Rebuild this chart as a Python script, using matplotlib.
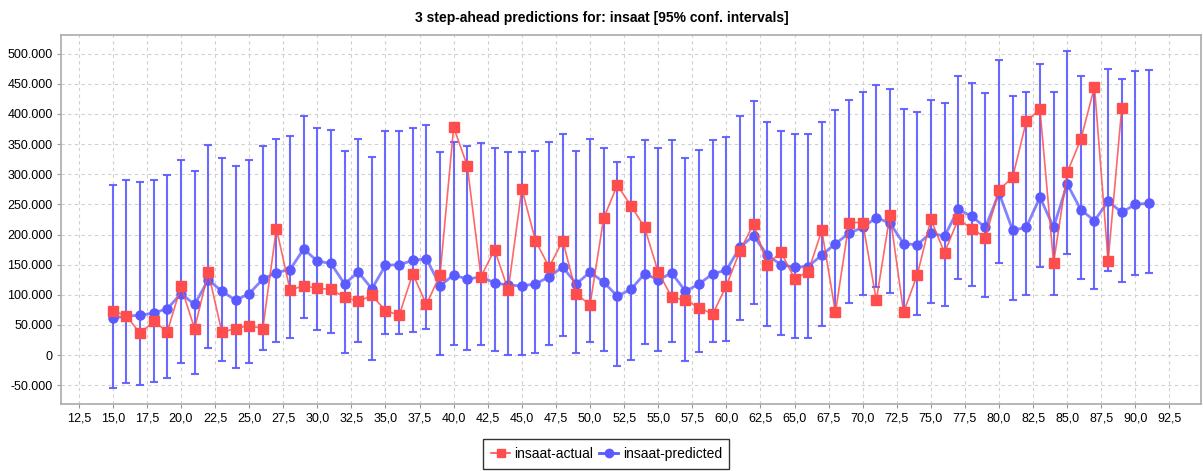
import numpy as np
import matplotlib
matplotlib.use('Agg')
import matplotlib.pyplot as plt
from matplotlib.ticker import MultipleLocator, FuncFormatter

plt.rcParams['font.family'] = ['Liberation Sans', 'DejaVu Sans']

# time steps
steps_actual = list(range(15, 90))
steps_pred = list(range(15, 92))

# actual values (x = 15 .. 89)
actual = [74000, 65000, 36000, 56000, 39000, 114000, 44000, 138000, 38000, 44000,
          49000, 44000, 210000, 108000, 115000, 111000, 109000, 96000, 89000, 99000,
          74000, 66000, 135000, 84000, 133000, 378000, 314000, 130000, 175000, 108000,
          276000, 190000, 146000, 190000, 102000, 83000, 227000, 282000, 248000, 212000,
          138000, 96000, 91000, 79000, 68000, 115000, 173000, 218000, 150000, 171000,
          127000, 138000, 207000, 71000, 220000, 220000, 91000, 233000, 71000, 133000,
          225000, 170000, 225000, 210000, 195000, 274000, 295000, 388000, 408000, 153000,
          303000, 358000, 445000, 156000, 410000]

# predicted values and 95% interval bounds (x = 15 .. 91)
predicted = [61000, 65000, 66000, 70000, 77000, 102000, 84000, 125000, 106000, 91000,
             102000, 126000, 137000, 142000, 176000, 156000, 152000, 118000, 138000, 110000,
             149000, 150000, 157000, 160000, 115000, 133000, 126000, 130000, 120000, 116000,
             115000, 118000, 130000, 146000, 118000, 138000, 121000, 98000, 109000, 135000,
             125000, 136000, 106000, 118000, 135000, 141000, 179000, 198000, 166000, 150000,
             146000, 147000, 166000, 185000, 202000, 212000, 228000, 219000, 185000, 183000,
             203000, 197000, 242000, 230000, 212000, 269000, 207000, 212000, 262000, 212000,
             284000, 241000, 223000, 255000, 237000, 250000, 252000]
upper = [282000, 290000, 287000, 290000, 299000, 324000, 305000, 349000, 327000, 314000,
         324000, 347000, 359000, 364000, 396000, 376000, 374000, 339000, 359000, 329000,
         372000, 372000, 376000, 381000, 337000, 353000, 347000, 352000, 344000, 337000,
         337000, 339000, 354000, 367000, 339000, 359000, 344000, 320000, 329000, 357000,
         344000, 357000, 327000, 341000, 357000, 362000, 396000, 421000, 386000, 372000,
         367000, 367000, 386000, 406000, 424000, 436000, 448000, 441000, 409000, 404000,
         424000, 419000, 463000, 451000, 434000, 490000, 429000, 436000, 483000, 436000,
         505000, 463000, 443000, 475000, 458000, 471000, 473000]
lower = [-55000, -47000, -50000, -44000, -38000, -13000, -32000, 12000, -10000, -22000,
         -13000, 9000, 22000, 29000, 62000, 42000, 37000, 3000, 22000, -8000,
         35000, 35000, 39000, 44000, 0, 17000, 9000, 17000, 7000, 0,
         0, 3000, 17000, 32000, 3000, 22000, 7000, -18000, -8000, 19000,
         7000, 22000, -10000, 5000, 22000, 24000, 59000, 84000, 49000, 34000,
         29000, 29000, 49000, 69000, 86000, 99000, 113000, 103000, 72000, 66000,
         86000, 81000, 127000, 114000, 96000, 153000, 91000, 99000, 146000, 99000,
         168000, 126000, 109000, 139000, 121000, 133000, 136000]

red = '#ff4d4d'
blue = '#5a5aff'

fig = plt.figure(figsize=(12.03, 4.71), dpi=100)
ax = fig.add_axes([0.0507, 0.1423, 0.9475, 0.7834])

pred = np.array(predicted)
yerr = [pred - np.array(lower), np.array(upper) - pred]
ax.errorbar(steps_pred, pred, yerr=yerr, fmt='none', ecolor=blue, elinewidth=1.5,
            capsize=3, capthick=1.5, alpha=0.9, zorder=2)
ax.plot(steps_pred, pred, color=blue, lw=2, alpha=0.75, zorder=3)
ax.plot(steps_pred, pred, 'o', color=blue, ms=6.5, mec=blue, zorder=3)
ax.plot(steps_actual, actual, color=red, lw=1.2, alpha=0.85, zorder=4)
ax.plot(steps_actual, actual, 's', color=red, ms=6.5, mec=red, zorder=4)

ax.set_xlim(11.2, 94.8)
ax.set_ylim(-81000, 531000)
ax.xaxis.set_major_locator(MultipleLocator(2.5))
ax.yaxis.set_major_locator(MultipleLocator(50000))
ax.xaxis.set_major_formatter(FuncFormatter(lambda v, p: f'{v:.1f}'.replace('.', ',')))
ax.yaxis.set_major_formatter(FuncFormatter(lambda v, p: f'{int(round(v)):,}'.replace(',', '.')))
ax.tick_params(labelsize=9, length=3, color='#999999', pad=3)
ax.grid(True, color='#d0d0d0', linestyle=(0, (3, 3)), linewidth=0.8)
ax.set_axisbelow(True)
for s in ax.spines.values():
    s.set_color('#aaaaaa')
    s.set_linewidth(1.2)

fig.text(0.5, 0.962, '3 step-ahead predictions for: insaat [95% conf. intervals]',
         ha='center', va='center', fontsize=10, fontweight='bold')

leg_handles = [
    plt.Line2D([], [], color=red, lw=1.2, marker='s', ms=6, mec=red),
    plt.Line2D([], [], color=blue, lw=2, marker='o', ms=6, mec=blue),
]
leg = fig.legend(leg_handles, ['insaat-actual', 'insaat-predicted'], loc='center',
                 bbox_to_anchor=(0.504, 0.036), ncol=2, fontsize=10, frameon=True,
                 fancybox=False, edgecolor='black', handlelength=1.4, handletextpad=0.3,
                 columnspacing=0.4, borderpad=0.55, borderaxespad=0)
leg.get_frame().set_linewidth(1.0)

fig.savefig('out.png', dpi=100)
